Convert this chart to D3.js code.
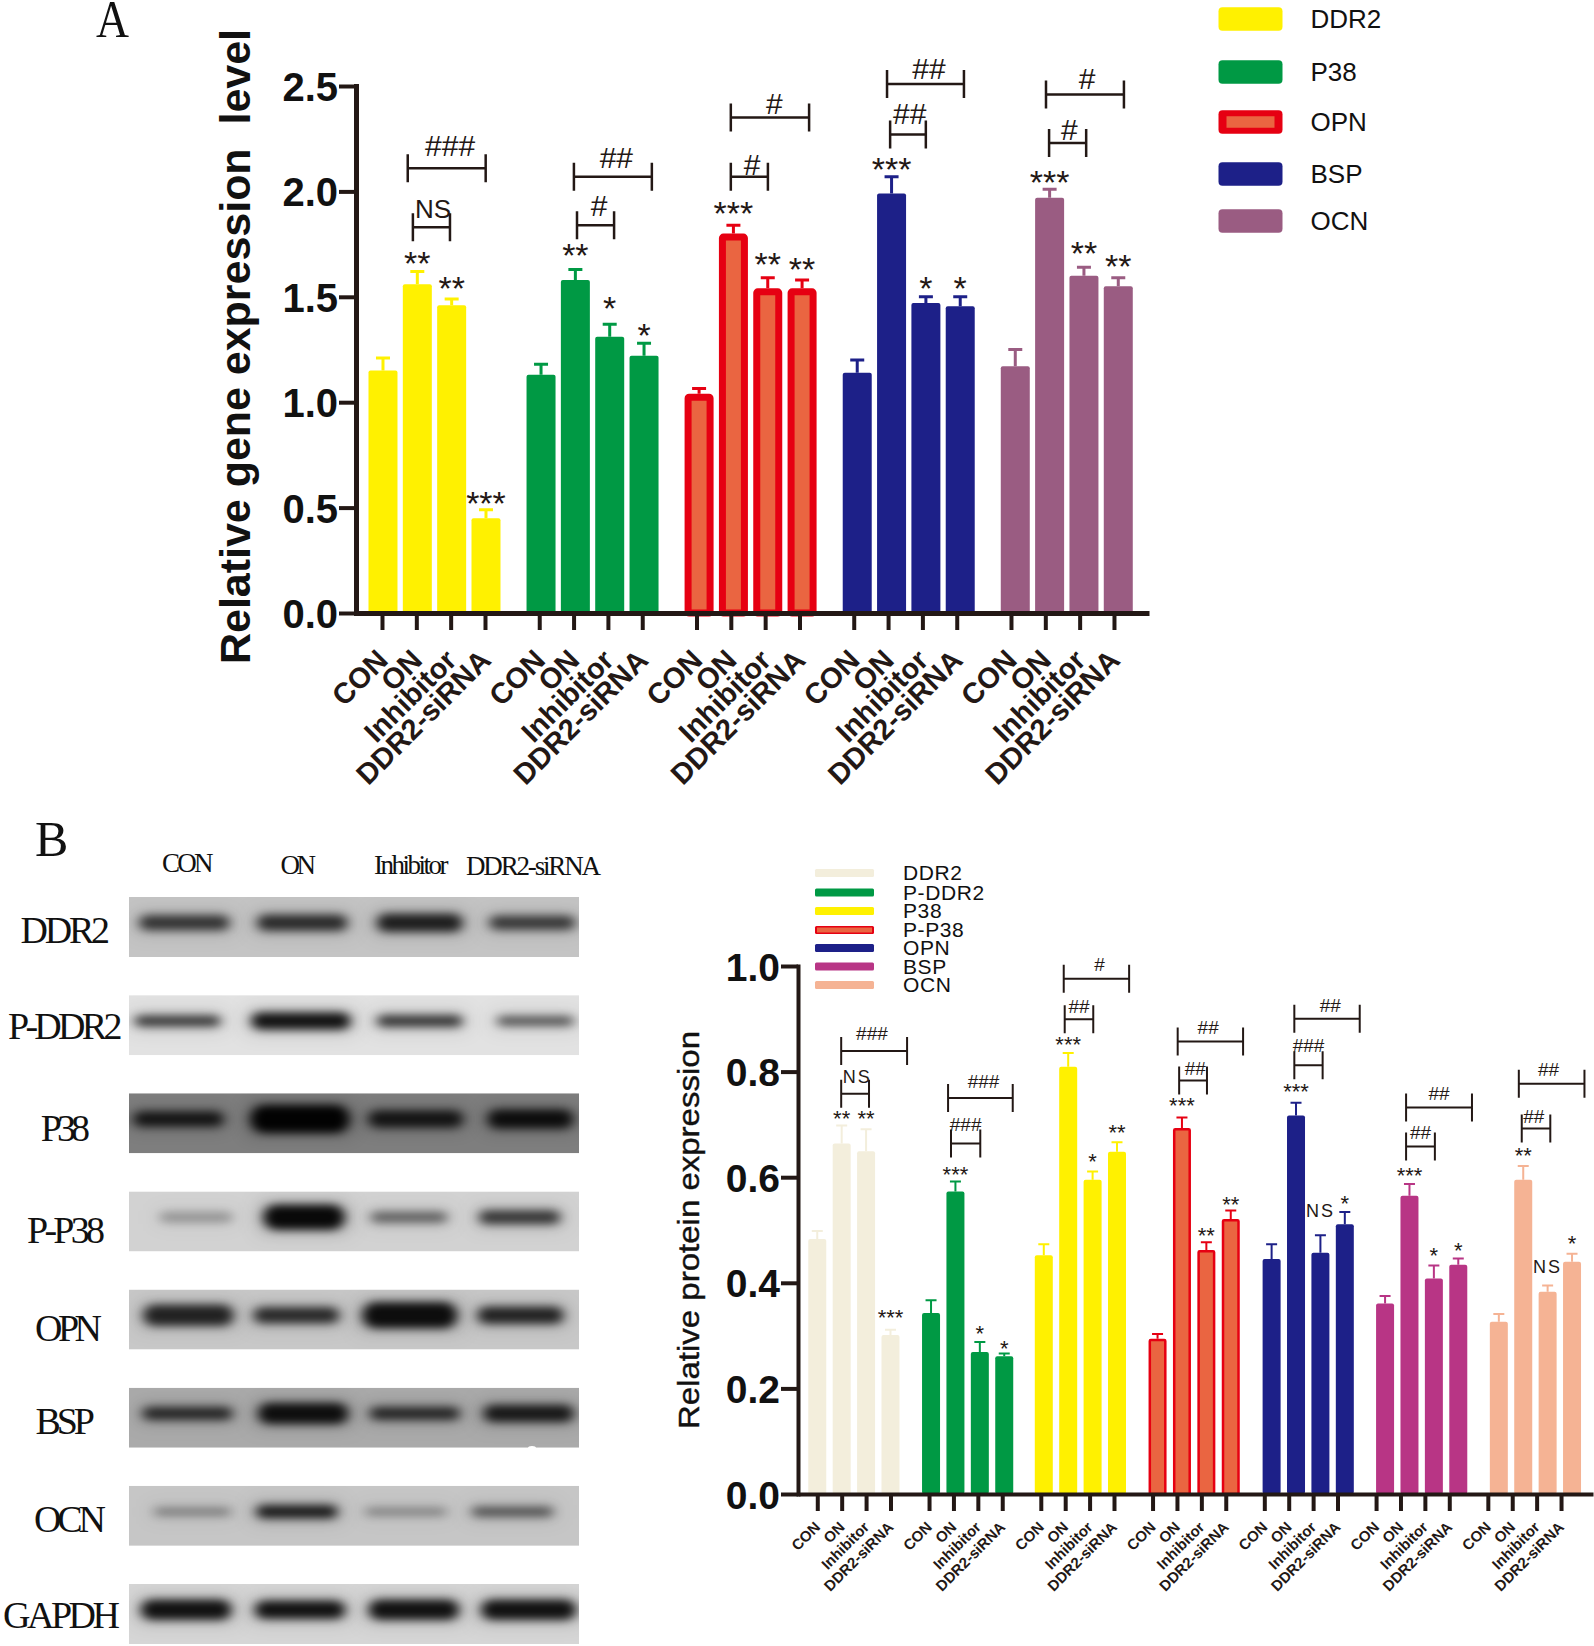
<!DOCTYPE html>
<html><head><meta charset="utf-8">
<script src="https://cdn.jsdelivr.net/npm/d3@7/dist/d3.min.js"></script>
<style>html,body{margin:0;padding:0;background:#fff}svg{display:block}text{font-family:"Liberation Sans",Arial,sans-serif}</style>
</head><body><svg id="c" width="1594" height="1646"></svg>
<script>
const conditions = ["CON","ON","Inhibitor","DDR2-siRNA"];

// Panel A
const genesA = ["DDR2","P38","OPN","BSP","OCN"];
const legendYA = [19,72,122,174,221];
const valuesA = [[1.15,1.56,1.46,0.45],[1.13,1.58,1.31,1.22],[1.04,1.80,1.54,1.54],[1.14,1.99,1.47,1.455],[1.17,1.97,1.60,1.55]];
const errTopA = [[1.21,1.62,1.49,0.49],[1.18,1.63,1.37,1.28],[1.065,1.84,1.59,1.58],[1.20,2.07,1.50,1.50],[1.25,2.01,1.64,1.59]];
const sigA = [["","**","**","***"],["","**","*","*"],["","***","**","**"],["","***","*","*"],["","***","**","**"]];
const sigLevelA = [[0,1.68,1.562,0.543],[0,1.717,1.468,1.338],[0,1.917,1.676,1.652],[0,2.125,1.562,1.562],[0,2.065,1.727,1.666]];
// group, from slot, to slot, level, label, label level, label shift in slots
const bracketsA = [
 [0,.75,3.02,2.11,"###",2.22,.1],[0,.9,1.98,1.83,"NS",1.92,.05],
 [1,1.01,3.28,2.07,"##",2.16,.1],[1,1.1,2.18,1.84,"#",1.935,.1],
 [2,1.0,3.28,2.35,"#",2.42,.13],[2,1.0,2.08,2.07,"#",2.13,.08],
 [3,.97,3.21,2.51,"##",2.585,.1],[3,1.06,2.1,2.27,"##",2.37,.05],
 [4,1.02,3.29,2.46,"#",2.535,.06],[4,1.11,2.19,2.23,"#",2.295,.05]];
const ticksA = [0,0.5,1,1.5,2,2.5];
const barOffsetA = [1,1.8,2.6,3.5,4.3];

// Panel B chart
const proteinsB = ["DDR2","P-DDR2","P38","P-P38","OPN","BSP","OCN"];
const legendYB = [873,892.5,911,930,948,966.5,985];
const valuesB = [[.483,.664,.649,.301],[.343,.573,.269,.261],[.452,.809,.595,.648],[.294,.693,.462,.521],[.445,.717,.457,.511],[.361,.565,.408,.434],[.326,.595,.383,.440]];
const errTopB = [[.498,.698,.691,.311],[.367,.592,.288,.266],[.473,.835,.611,.666],[.303,.713,.477,.537],[.473,.741,.490,.534],[.375,.587,.433,.446],[.341,.621,.395,.455]];
const sigB = [["","**","**","***"],["","***","*","*"],["","***","*","**"],["","***","**","**"],["","***","NS","*"],["","***","*","*"],["","**","NS","*"]];
const sigLevelB = [[0,.715,.715,.338],[0,.609,.309,.28],[0,.855,.633,.689],[0,.74,.493,.552],[0,.766,.536,.555],[0,.607,.456,.465],[0,.645,.431,.478]];
const bracketsB = [
 [0,.98,3.68,.839,"###",.872,-.09],[0,.98,2.12,.758,"NS",.79,.09],
 [1,.78,3.43,.75,"###",.782,.13],[1,.9,2.1,.664,"###",.70,0],
 [2,.94,3.62,.976,"#",1.004,.13],[2,.98,2.15,.899,"##",.924,0],
 [3,1.03,3.71,.857,"##",.885,-.09],[3,1.09,2.23,.783,"##",.807,.09],
 [4,1.23,3.91,.90,"##",.925,.13],[4,1.23,2.39,.812,"###",.85,0],
 [5,1.23,3.93,.732,"##",.76,0],[5,1.23,2.41,.658,"##",.685,0],
 [6,1.27,3.96,.777,"##",.805,-.13],[6,1.39,2.56,.692,"##",.715,-.09]];
const ticksB = [0,.2,.4,.6,.8,1];
const barOffsetB = [0,2,3,5,7.3,9,11];

// Western blot
const blotRows = ["DDR2","P-DDR2","P38","P-P38","OPN","BSP","OCN","GAPDH"];
const blotShade = ["#c4c4c4","#e2e2e2","#7e7e7e","#d2d2d2","#c8c8c8","#aaaaaa","#c6c6c6","#d6d6d6"];
const blotCentres = [[12.3,38.5,64.6,89.6],[10.8,38.2,64.6,90.3],[11,38,63.7,89.2],[14.9,38.9,62.2,86.8],[13.2,37.2,62.4,87],[13,38.7,63.5,88.8],[14.1,37.3,61.5,85.2],[12.7,38,63.3,88.8]];
const blotWidths = [[20,20,19,19],[19,22,19,17],[20,22,21,19],[16,18,17,18],[20,19,21,19],[20,20,20,20],[17,18,18,18],[20,20,20,21]];
const blotThick = [[15,16,18,14],[11,17,12,10],[15,28,17,19],[10,25,11,14],[21,16,26,17],[13,21,13,17],[8,13,8,10],[20,18,20,20]];
const blotDark = [[.7,.75,.82,.68],[.72,.9,.72,.58],[.82,.98,.82,.88],[.28,.95,.5,.7],[.8,.76,.92,.8],[.75,.9,.75,.83],[.35,.85,.32,.55],[.9,.9,.9,.9]];

const ink = "#231815", YEL="#FFF100", GRN="#009944", RED="#E60012", ORG="#EA6541", BLU="#1D2088";
const fillA = [YEL,GRN,ORG,BLU,"#9A5C82"], edgeA = [YEL,GRN,RED,BLU,"#9A5C82"];
const fillB = ["#F3EEDC",GRN,YEL,ORG,BLU,"#B83585","#F5B394"], edgeB = ["#F3EEDC",GRN,YEL,RED,BLU,"#B83585","#F5B394"];
const STEP = 4.58;

const svg = d3.select("#c");
const defs = svg.append("defs");
defs.append("filter").attr("id","blur").attr("x","-20%").attr("y","-150%").attr("width","140%").attr("height","400%")
  .append("feGaussianBlur").attr("stdDeviation","6 4");
defs.append("filter").attr("id","halo").attr("x","-30%").attr("y","-300%").attr("width","160%").attr("height","700%")
  .append("feGaussianBlur").attr("stdDeviation","10 9");

function panel(cfg){
  const g = svg.append("g");
  const x = d3.scaleLinear().domain(cfg.xDom).range(cfg.xRange);
  const y = d3.scaleLinear().domain(cfg.yDom).range(cfg.yRange);
  const slot = (gi,i)=>gi*STEP+i;
  const half = cfg.barW/2;
  const pw = cfg.edgeW;

  cfg.values.forEach((vals,gi)=>{
    const gg = g.append("g");
    const shift = cfg.barOffset[gi];
    const isOutlined = cfg.edges[gi]!==cfg.fills[gi];
    gg.selectAll("path.e").data(vals).join("path").attr("class","e")
      .attr("fill","none").attr("stroke",cfg.edges[gi]).attr("stroke-width",cfg.errW)
      .attr("d",(v,i)=>{const cx=x(slot(gi,i))+shift,t=y(cfg.errTop[gi][i]);
        return `M${cx},${y(v)}V${t}M${cx-cfg.capW/2},${t}H${cx+cfg.capW/2}`;});
    gg.selectAll("rect").data(vals).join("rect")
      .attr("x",(v,i)=>x(slot(gi,i))+shift-half+(isOutlined?pw/2:0))
      .attr("width",cfg.barW-(isOutlined?pw:0))
      .attr("y",v=>y(v)+(isOutlined?pw/2:0))
      .attr("height",v=>y(0)-y(v)-(isOutlined?pw/2:0))
      .attr("rx",isOutlined?1:2)
      .attr("fill",cfg.fills[gi])
      .attr("stroke",isOutlined?cfg.edges[gi]:"none")
      .attr("stroke-width",isOutlined?pw:0);
    gg.selectAll("text").data(cfg.sig[gi]).join("text")
      .attr("text-anchor","middle")
      .attr("x",(s,i)=>x(slot(gi,i))+shift)
      .attr("y",(s,i)=>y(cfg.sigLevel[gi][i]))
      .attr("dy",s=>s==="NS"?"0.36em":cfg.starDy)
      .attr("font-size",s=>s==="NS"?cfg.nsSize:cfg.starSize)
      .attr("letter-spacing",s=>s==="NS"?cfg.nsSpace:0)
      .attr("fill",ink)
      .text(s=>s);
  });

  const br = g.append("g");
  br.selectAll("path").data(cfg.brackets).join("path")
    .attr("fill","none").attr("stroke",ink).attr("stroke-width",cfg.brW)
    .attr("d",d=>{const a=x(d[0]*STEP+d[1]),b=x(d[0]*STEP+d[2]),l=y(d[3]),c=cfg.brCap;
      return `M${a},${l-c}V${l+c}M${a},${l}H${b}M${b},${l-c}V${l+c}`;});
  br.selectAll("text").data(cfg.brackets).join("text")
    .attr("text-anchor","middle")
    .attr("x",d=>x(d[0]*STEP+(d[1]+d[2])/2+d[6]))
    .attr("y",d=>y(d[5])).attr("dy","0.36em")
    .attr("font-size",d=>d[4]==="NS"?cfg.nsSize:cfg.hashSize)
    .attr("letter-spacing",d=>d[4]==="NS"?cfg.nsSpace:0)
    .attr("fill",ink).text(d=>d[4]);

  const slots = d3.merge(cfg.values.map((v,gi)=>v.map((_,i)=>slot(gi,i))));
  const ax = g.append("g").attr("transform",`translate(0,${cfg.yRange[0]})`)
    .call(d3.axisBottom(x).tickValues(slots).tickSize(cfg.tickLen).tickSizeOuter(0)
      .tickFormat((s,i)=>conditions[i%4]));
  ax.select(".domain").attr("stroke",ink).attr("stroke-width",cfg.axisW);
  ax.selectAll(".tick line").attr("stroke",ink).attr("stroke-width",cfg.tickW);
  ax.selectAll(".tick text")
    .attr("font-family",'"Liberation Sans"').attr("font-weight",700).attr("font-size",cfg.xFont).attr("fill",ink)
    .attr("text-anchor","end").attr("dy",0).attr("y",0).attr("x",0)
    .attr("transform",`translate(${cfg.xLabelDx},${cfg.xLabelDy}) rotate(-45)`);
  const ay = g.append("g").attr("transform",`translate(${cfg.xRange[0]},0)`)
    .call(d3.axisLeft(y).tickValues(cfg.ticks).tickSize(cfg.tickLen).tickSizeOuter(0).tickFormat(d3.format(".1f")));
  ay.select(".domain").attr("stroke",ink).attr("stroke-width",cfg.axisW).attr("stroke-linecap","square");
  ay.selectAll(".tick line").attr("stroke",ink).attr("stroke-width",cfg.tickW);
  ay.selectAll(".tick text").attr("font-family",'"Liberation Sans"').attr("font-weight",700)
    .attr("font-size",cfg.yFont).attr("fill","#111").attr("x",-cfg.tickLen-1).attr("dy","0.36em");

  g.append("text").attr("transform",`translate(${cfg.titleX},${cfg.titleY}) rotate(-90)`)
    .attr("font-size",cfg.titleSize).attr("font-weight",cfg.titleWeight).attr("fill","#111")
    .attr("stroke",cfg.titleStroke?"#111":"none").attr("stroke-width",cfg.titleStroke||0)
    .attr("textLength",cfg.titleLen).attr("lengthAdjust","spacingAndGlyphs")
    .attr("xml:space","preserve").style("white-space","pre").text(cfg.title);
}

panel({values:valuesA,errTop:errTopA,sig:sigA,sigLevel:sigLevelA,brackets:bracketsA,ticks:ticksA,barOffset:barOffsetA,
  fills:fillA,edges:edgeA,xDom:[-.757,22.34],xRange:[356,1149],yDom:[0,2.5],yRange:[613,86],
  barW:29,edgeW:7,errW:3,capW:14,starSize:34,starDy:"0.48em",nsSize:26,nsSpace:0,hashSize:30,brW:2.5,brCap:14,
  tickLen:17,tickW:4,axisW:5,xFont:29,xLabelDx:7,xLabelDy:49,yFont:40,
  title:"Relative gene expression  level",titleX:249.5,titleY:664,titleSize:43,titleLen:635,titleWeight:700});

panel({values:valuesB,errTop:errTopB,sig:sigB,sigLevel:sigLevelB,brackets:bracketsB,ticks:ticksB,barOffset:barOffsetB,
  fills:fillB,edges:edgeB,xDom:[-.79,31.79],xRange:[798,1593],yDom:[0,1],yRange:[1494,966],
  barW:18,edgeW:2.5,errW:2,capW:11,starSize:22,starDy:"0.44em",nsSize:18,nsSpace:2,hashSize:19,brW:2,brCap:14,
  tickLen:17,tickW:4,axisW:4,xFont:15,xLabelDx:3.5,xLabelDy:34,yFont:39,
  title:"Relative protein expression",titleX:699,titleY:1429,titleSize:30,titleLen:398,titleWeight:400,titleStroke:.4});

function legend(names,fills,edges,ys,sx,sw,sh,tx,fs,edgeW,rx,tdy,ls){
  const y = d3.scaleOrdinal().domain(names).range(ys);
  const l = svg.append("g");
  l.selectAll("rect.o").data(names).join("rect").attr("class","o")
    .attr("x",sx).attr("width",sw).attr("y",n=>y(n)-sh/2).attr("height",sh).attr("rx",rx)
    .attr("fill",(n,i)=>edges[i]);
  l.selectAll("rect.i").data(names.filter(n=>edges[names.indexOf(n)]!==fills[names.indexOf(n)])).join("rect").attr("class","i")
    .attr("x",sx+edgeW).attr("width",sw-2*edgeW).attr("y",n=>y(n)-sh/2+edgeW*.75).attr("height",sh-1.5*edgeW)
    .attr("fill",n=>fills[names.indexOf(n)]);
  l.selectAll("text").data(names).join("text").attr("x",tx).attr("y",n=>y(n)).attr("dy",tdy)
    .attr("font-size",fs).attr("letter-spacing",ls).attr("fill","#111").text(n=>n);
}
legend(genesA,fillA,edgeA,legendYA,1218.5,64,23.5,1310.5,26,8,4,"0.36em",0);
legend(proteinsB,fillB,edgeB,legendYB,815,59,8,903,21,2,1.5,"0.34em",.6);

const blotX = d3.scaleLinear().domain([0,100]).range([129,579]);
const rowTop = d3.scalePoint().domain(blotRows).range([897,1584]);
const rowH = 60;
const blotClip = defs.selectAll("clipPath").data(blotRows).join("clipPath").attr("id",(r,i)=>"m"+i);
blotClip.append("rect").attr("x",blotX(0)).attr("width",blotX(100)-blotX(0)).attr("y",r=>rowTop(r)).attr("height",rowH);
const blot = svg.append("g");
blotRows.forEach((r,ri)=>{
  const rg = blot.append("g").attr("clip-path",`url(#m${ri})`);
  rg.append("rect").attr("x",blotX(0)).attr("width",blotX(100)-blotX(0)).attr("y",rowTop(r)).attr("height",rowH).attr("fill",blotShade[ri]);
  const cy = rowTop(r)+rowH*0.43;
  const bandW = i=>blotX(blotWidths[ri][i])-blotX(0);
  // soft halo around each band
  rg.selectAll("rect.h").data(blotCentres[ri]).join("rect").attr("class","h")
    .attr("x",(c,i)=>blotX(c)-bandW(i)/2-4).attr("width",(c,i)=>bandW(i)+8)
    .attr("y",(c,i)=>cy-blotThick[ri][i]/2-3).attr("height",(c,i)=>blotThick[ri][i]+6)
    .attr("fill","#000").attr("fill-opacity",(c,i)=>blotDark[ri][i]*.22).attr("filter","url(#halo)");
  rg.selectAll("rect.b").data(blotCentres[ri]).join("rect").attr("class","b")
    .attr("x",(c,i)=>blotX(c)-bandW(i)/2).attr("width",(c,i)=>bandW(i))
    .attr("y",(c,i)=>cy-blotThick[ri][i]/2).attr("height",(c,i)=>blotThick[ri][i])
    .attr("rx",(c,i)=>blotThick[ri][i]/2)
    .attr("fill","#000").attr("fill-opacity",(c,i)=>blotDark[ri][i]).attr("filter","url(#blur)");
});
svg.append("ellipse").attr("cx",532).attr("cy",1448).attr("rx",4).attr("ry",2).attr("fill","#fff");

const serif = '"Liberation Serif",serif';
const blotLabelX = [20.5,8,40.7,27,35,35.5,34,3];
const blotLabelW = [89.5,114.5,49.3,78,67,59.5,72,117];
const blotLabelY = [943,1039,1141,1242.5,1341,1433.5,1532,1628];
svg.append("g").selectAll("text").data(blotRows).join("text")
  .attr("x",(d,i)=>blotLabelX[i]).attr("y",(d,i)=>blotLabelY[i])
  .attr("textLength",(d,i)=>blotLabelW[i]).attr("lengthAdjust","spacing")
  .style("font-family",serif).attr("font-size",38).attr("fill","#111").text(d=>d);
const laneLabelX=[162,280.6,374,466], laneLabelW=[51.5,35.4,74.6,135], laneLabelY=[872,874,874,874.5];
svg.append("g").selectAll("text").data(conditions).join("text")
  .attr("x",(d,i)=>laneLabelX[i]).attr("y",(d,i)=>laneLabelY[i])
  .attr("textLength",(d,i)=>laneLabelW[i]).attr("lengthAdjust","spacing")
  .style("font-family",serif).attr("font-size",27).attr("fill","#111").text(d=>d);

svg.append("text").attr("x",96).attr("y",37).attr("textLength",33).attr("lengthAdjust","spacingAndGlyphs")
  .style("font-family",serif).attr("font-size",52).attr("fill","#111").text("A");
svg.append("text").attr("x",35).attr("y",856).style("font-family",serif).attr("font-size",50).attr("fill","#111").text("B");
</script></body></html>
